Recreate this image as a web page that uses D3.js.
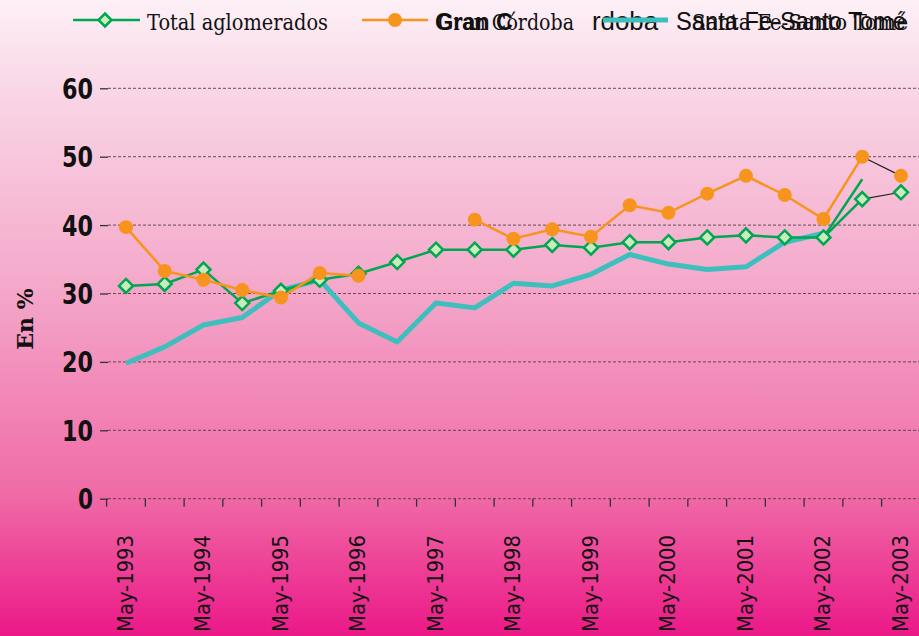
<!DOCTYPE html>
<html><head><meta charset="utf-8">
<script src="https://cdn.jsdelivr.net/npm/d3@7"></script>
<style>html,body{margin:0;padding:0;overflow:hidden;background:#fff}svg{display:block}</style>
</head><body>
<script>
// ---- data ----
const categories = ["May-1993","Oct-1993","May-1994","Oct-1994","May-1995","Oct-1995","May-1996","Oct-1996",
  "May-1997","Oct-1997","May-1998","Oct-1998","May-1999","Oct-1999","May-2000","Oct-2000","May-2001","Oct-2001",
  "May-2002","Oct-2002","May-2003"];
const tickLabels = ["May-1993","May-1994","May-1995","May-1996","May-1997","May-1998","May-1999","May-2000","May-2001","May-2002","May-2003"];
const totalAglomerados = [31.1,31.4,33.5,28.6,30.4,32.0,32.9,34.6,36.4,36.4,36.4,37.1,36.7,37.5,37.5,38.2,38.5,38.2,38.2,43.8,44.8];
const totalExtra = [null,null,null,null,null,null,null,null,null,null,null,null,null,null,null,null,null,null,38.2,46.7,null];
const granCordoba = [39.7,33.3,32.0,30.5,29.4,33.0,32.6,null,null,40.8,38.0,39.4,38.3,42.9,41.8,44.6,47.2,44.4,40.9,50.0,47.2];
const santaFe = [19.8,22.2,25.4,26.5,30.5,32.0,25.7,22.9,28.6,27.9,31.5,31.1,32.8,35.7,34.3,33.5,33.9,37.5,38.8,null,null];
const yTicks = [0,10,20,30,40,50,60];

const W = 919, H = 636;
const svg = d3.select("body").append("svg").attr("width", W).attr("height", H);
const defs = svg.append("defs");
const grad = defs.append("linearGradient").attr("id","bg").attr("x1",0).attr("y1",0).attr("x2",0).attr("y2",1);
[[0,"#fdf0f6"],[0.15,"#f9d5e5"],[0.45,"#f4a8ca"],[0.78,"#f06aa6"],[1,"#eb1888"]]
  .forEach(([o,c]) => grad.append("stop").attr("offset",o).attr("stop-color",c));
svg.append("rect").attr("width",W).attr("height",H).attr("fill","url(#bg)");

const x = d3.scaleBand().domain(categories).range([106.6, 106.6 + 21*38.75]).padding(0);
const cx = c => x(c) + x.bandwidth()/2;
const y = d3.scaleLinear().domain([0,60]).range([498.7, 88.3]);

// gridlines
const gridG = svg.append("g");
gridG.selectAll("line").data(yTicks).join("line")
  .attr("x1",108).attr("x2",W).attr("y1",d=>y(d)).attr("y2",d=>y(d))
  .attr("stroke","#4a3a42").attr("stroke-width",1).attr("stroke-dasharray","3,2").attr("opacity",0.85);

// y axis
const yAxis = svg.append("g").attr("transform","translate(108,0)")
  .call(d3.axisLeft(y).tickValues(yTicks).tickSize(8).tickPadding(6));
yAxis.select(".domain").remove();
yAxis.selectAll(".tick line").attr("stroke","#333").attr("stroke-width",1.3);
yAxis.selectAll(".tick text")
  .attr("font-family","'DejaVu Sans Condensed','DejaVu Sans'").attr("font-weight","bold")
  .attr("font-size",28).attr("fill","#111").attr("x",-15).attr("dy","0.36em")
  .attr("lengthAdjust","spacingAndGlyphs").attr("textLength",d=>d===0?15:31);

// x ticks at band boundaries
svg.append("g").selectAll("line").data(categories.concat(["_end"])).join("line")
  .attr("x1",(d,i)=> i<categories.length ? x(d) : x(categories[categories.length-1])+x.bandwidth())
  .attr("x2",(d,i)=> i<categories.length ? x(d) : x(categories[categories.length-1])+x.bandwidth())
  .attr("y1",y(0)).attr("y2",y(0)+8).attr("stroke","#333").attr("stroke-width",1.3);

// x labels
svg.append("g").selectAll("text").data(tickLabels).join("text")
  .attr("transform",d=>`translate(${cx(d)+7},535) rotate(-90)`)
  .attr("text-anchor","end")
  .attr("font-family","'DejaVu Sans Condensed','DejaVu Sans'").attr("font-size",21).attr("fill","#111")
  .attr("lengthAdjust","spacingAndGlyphs").attr("textLength",97)
  .text(d=>d);

// y axis title
svg.append("text").attr("transform","translate(33,319) rotate(-90)").attr("text-anchor","middle")
  .attr("font-family","'DejaVu Serif'").attr("font-weight","bold").attr("font-size",22).attr("fill","#111")
  .text("En %");

// series
const pts = arr => arr.map((v,i)=>({c:categories[i],v}));
const line = d3.line().defined(d=>d.v!=null).x(d=>cx(d.c)).y(d=>y(d.v));
const GREEN="#00a651", ORANGE="#f7941d", TEAL="#3dbfbe";

// Santa Fe
svg.append("path").datum(pts(santaFe)).attr("d",line).attr("fill","none")
  .attr("stroke",TEAL).attr("stroke-width",5).attr("stroke-linejoin","round");

// Total aglomerados lines
const tot = pts(totalAglomerados);
svg.append("path").datum(tot.slice(0,20)).attr("d",line).attr("fill","none").attr("stroke",GREEN).attr("stroke-width",2.5);
svg.append("path").datum(pts(totalExtra)).attr("d",line).attr("fill","none").attr("stroke",GREEN).attr("stroke-width",2.5);
svg.append("path").datum(tot.slice(19)).attr("d",line).attr("fill","none").attr("stroke","#222").attr("stroke-width",1.2);

function diamondPath(s){ return `M0,${-s}L${s},0L0,${s}L${-s},0Z`; }
svg.append("g").selectAll("path").data(tot).join("path")
  .attr("transform",d=>`translate(${cx(d.c)},${y(d.v)})`)
  .attr("d",diamondPath(7)).attr("fill","#c9ecbc").attr("stroke",GREEN).attr("stroke-width",2.5);

// Gran Cordoba
const cor = pts(granCordoba);
svg.append("path").datum(cor.slice(0,20)).attr("d",line).attr("fill","none").attr("stroke",ORANGE).attr("stroke-width",2.5);
svg.append("path").datum(cor.slice(19)).attr("d",line).attr("fill","none").attr("stroke","#222").attr("stroke-width",1.2);
svg.append("g").selectAll("circle").data(cor.filter(d=>d.v!=null)).join("circle")
  .attr("cx",d=>cx(d.c)).attr("cy",d=>y(d.v)).attr("r",7).attr("fill",ORANGE);

// legend
const lg = svg.append("g");
lg.append("line").attr("x1",73).attr("x2",140).attr("y1",20).attr("y2",20).attr("stroke",GREEN).attr("stroke-width",2.5);
lg.append("path").attr("transform","translate(105,20)").attr("d",diamondPath(6.5)).attr("fill","#c9ecbc").attr("stroke",GREEN).attr("stroke-width",2.5);
lg.append("text").attr("x",147).attr("y",30).attr("font-family","'DejaVu Serif'").attr("font-size",22).attr("fill","#111")
  .attr("lengthAdjust","spacingAndGlyphs").attr("textLength",181).text("Total aglomerados");

lg.append("line").attr("x1",362).attr("x2",428).attr("y1",20).attr("y2",20).attr("stroke",ORANGE).attr("stroke-width",2.5);
lg.append("circle").attr("cx",395).attr("cy",20).attr("r",7).attr("fill",ORANGE);
lg.append("text").attr("x",438).attr("y",30).attr("font-family","'DejaVu Serif'").attr("font-size",22).attr("fill","#111")
  .attr("lengthAdjust","spacingAndGlyphs").attr("textLength",136).text("Gran Córdoba");
lg.append("text").attr("x",435).attr("y",30).attr("font-family","'Liberation Sans'").attr("font-weight","bold").attr("font-size",24).attr("fill","#111")
  .attr("lengthAdjust","spacingAndGlyphs").attr("textLength",78).text("Gran C");
lg.append("text").attr("x",592).attr("y",30).attr("font-family","'Liberation Sans'").attr("font-size",25).attr("fill","#111")
  .attr("lengthAdjust","spacingAndGlyphs").attr("textLength",66).text("rdoba");

lg.append("line").attr("x1",603).attr("x2",668).attr("y1",20).attr("y2",20).attr("stroke",TEAL).attr("stroke-width",5);
lg.append("text").attr("x",676).attr("y",30).attr("font-family","'Liberation Sans'").attr("font-size",25).attr("fill","#111")
  .attr("lengthAdjust","spacingAndGlyphs").attr("textLength",230).text("Santa Fe-Santo Tomé");
lg.append("text").attr("x",692).attr("y",30).attr("font-family","'DejaVu Serif Condensed','DejaVu Serif'").attr("font-size",22).attr("fill","#111")
  .attr("lengthAdjust","spacingAndGlyphs").attr("textLength",216).text("Santa Fe-Santo Tomé");
</script>
</body></html>
